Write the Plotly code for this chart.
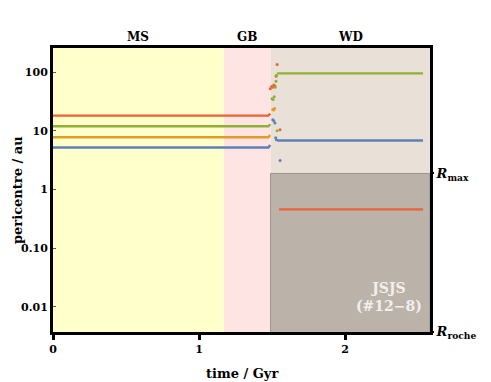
import plotly.graph_objects as go

# Mathematica-like palette
BLUE = "#5e81b5"
ORANGE = "#e19c24"
GREEN = "#8fb032"
RED = "#eb6235"
FONT = "DejaVu Serif"

# phase boundaries (Gyr)
ms_end = 1.17
gb_end = 1.49
t_max = 2.582
r_max = 1.87
r_roche = 0.00375

# pre-WD orbits
t_pre = [0.0, 1.475, 1.488]
red_pre = [18.1, 18.1, 19.6]
green_pre = [11.9, 11.9, 12.9]
orange_pre = [7.75, 7.75, 8.4]
blue_pre = [5.18, 5.18, 5.7]

# scattered points during the transition
red_tr_t = [1.488, 1.497, 1.505, 1.512, 1.52, 1.528, 1.535, 1.555]
red_tr_p = [52, 57, 55, 60, 58, 85, 134, 10.4]
green_tr_t = [1.500, 1.507, 1.515, 1.522, 1.527, 1.53, 1.535]
green_tr_p = [35, 34, 38, 55, 70, 88, 10]
orange_tr_t = [1.505, 1.512, 1.518]
orange_tr_p = [23, 22.5, 24]
blue_tr_t = [1.505, 1.512, 1.52, 1.525, 1.53, 1.555]
blue_tr_p = [15.4, 14.8, 13.5, 7.6, 7.0, 3.1]

# WD phase orbits
t_wd = [1.535, 2.534]
green_wd = [95, 95]
blue_wd = [6.8, 6.8]
t_wd_red = [1.548, 2.534]
red_wd = [0.457, 0.457]

fig = go.Figure()

for t, p, c in [(t_pre, red_pre, RED), (t_pre, green_pre, GREEN),
                (t_pre, orange_pre, ORANGE), (t_pre, blue_pre, BLUE),
                (t_wd, green_wd, GREEN), (t_wd, blue_wd, BLUE),
                (t_wd_red, red_wd, RED)]:
    fig.add_trace(go.Scatter(x=t, y=p, mode="lines",
                             line=dict(color=c, width=2.4), showlegend=False))

for t, p, c in [(red_tr_t, red_tr_p, RED), (green_tr_t, green_tr_p, GREEN),
                (orange_tr_t, orange_tr_p, ORANGE), (blue_tr_t, blue_tr_p, BLUE)]:
    fig.add_trace(go.Scatter(x=t, y=p, mode="markers",
                             marker=dict(color=c, size=3), showlegend=False))

# invisible trace for the right-hand axis
fig.add_trace(go.Scatter(x=[0], y=[1], yaxis="y2", mode="markers",
                         marker=dict(opacity=0), showlegend=False, hoverinfo="skip"))

# phase backgrounds
fig.add_shape(type="rect", xref="x", yref="paper", x0=0, x1=ms_end, y0=0, y1=1,
              fillcolor="#ffffcc", line_width=0, layer="below")
fig.add_shape(type="rect", xref="x", yref="paper", x0=ms_end, x1=gb_end, y0=0, y1=1,
              fillcolor="#ffe4e4", line_width=0, layer="below")
fig.add_shape(type="rect", xref="x", yref="y", x0=gb_end, x1=t_max, y0=r_max, y1=1e4,
              fillcolor="#e9e1d7", line_width=0, layer="below")
fig.add_shape(type="rect", xref="x", yref="y", x0=gb_end, x1=t_max, y0=1e-4, y1=r_max,
              fillcolor="#bbb3aa", line=dict(color="#9a938b", width=1), layer="below")

for label, xc in [("MS", (0 + ms_end) / 2), ("GB", (ms_end + gb_end) / 2),
                  ("WD", (gb_end + t_max) / 2)]:
    fig.add_annotation(text=label, x=xc, xref="x", y=1.04, yref="paper",
                       yanchor="middle", showarrow=False,
                       font=dict(family=FONT, size=12, weight="bold"))

fig.add_annotation(text="JSJS<br>(#12−8)", x=2.30, y=-1.84, xref="x", yref="y",
                   showarrow=False,
                   font=dict(family=FONT, size=14, weight="bold", color="#f3efea"))

# axis titles as annotations so they sit where the reference has them
fig.add_annotation(text="time / Gyr", x=0.5, xref="paper", y=0, yref="paper",
                   yanchor="middle", yshift=-41, showarrow=False,
                   font=dict(family=FONT, size=13, weight="bold"))
fig.add_annotation(text="pericentre / au", x=0, xref="paper", y=0.5, yref="paper",
                   xanchor="center", xshift=-36, textangle=-90, showarrow=False,
                   font=dict(family=FONT, size=13, weight="bold"))

# the page adds an 8px body margin, so the figure is sized to fit inside it
fig.update_layout(
    width=483, height=374,
    margin=dict(l=45, r=61, t=40, b=50),
    plot_bgcolor="white", paper_bgcolor="white",
    font=dict(family=FONT, size=11, color="black", weight="bold"),
    xaxis=dict(range=[0, t_max], tickvals=[0, 1, 2], showgrid=False, zeroline=False,
               showline=True, linecolor="black", linewidth=3, mirror=True,
               ticks="outside", ticklen=5, tickwidth=2.5, tickcolor="black",
               automargin=False),
    yaxis=dict(type="log", range=[-2.43, 2.41], tickvals=[0.01, 0.1, 1, 10, 100],
               ticktext=["0.01", "0.10", "1", "10", "100"], showgrid=False,
               zeroline=False, showline=True, linecolor="black", linewidth=3,
               mirror=True, ticks="inside", ticklen=3, tickwidth=1,
               tickcolor="#555555", automargin=False),
    yaxis2=dict(type="log", range=[-2.43, 2.41], overlaying="y", side="right",
                tickvals=[r_max, r_roche],
                ticktext=["<i>R</i><sub>max</sub>", "<i>R</i><sub>roche</sub>"],
                showgrid=False, zeroline=False, showline=False, automargin=False,
                ticks="outside", ticklen=3, tickwidth=2, tickcolor="black",
                tickfont=dict(size=13)),
)

fig.write_html("out.html")
